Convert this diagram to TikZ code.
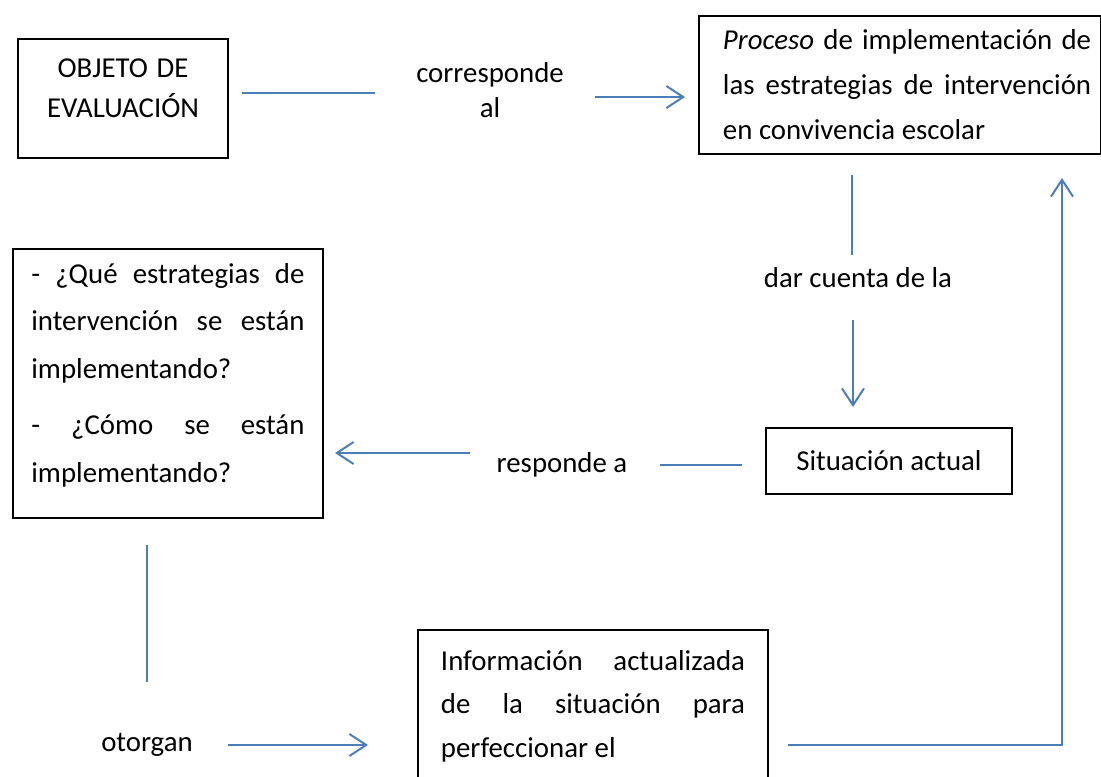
\documentclass[tikz,border=0pt]{standalone}
\usepackage{fontspec}
\setmainfont{Carlito}
\usepackage{xcolor}
\usetikzlibrary{arrows.meta}

\definecolor{wordblue}{HTML}{4A7EBB}
\newcommand{\jline}[2]{\noindent\hbox to #1{\spaceskip=0pt\xspaceskip=0pt #2}}
\newcommand{\toprule}{\rule{0pt}{16pt}}

\begin{document}
\begin{tikzpicture}[x=0.025cm, y=-0.025cm,
    every node/.style={font=\fontsize{20.5}{31}\selectfont},
    box/.style={draw, line width=1.4pt, inner sep=0pt,
                execute at begin node={\spaceskip=0pt\xspaceskip=0pt}},
    link/.style={wordblue, line width=1.4pt},
    linkarrow/.style={link, -{Straight Barb[length=0.42cm, width=0.55cm]}}]
    \useasboundingbox (0,0) rectangle (1101,777);

    % Boxes
    \node[box, anchor=north, text width=5.25cm, inner ysep=0.39cm, text depth=1.64cm, align=center,
          font=\fontsize{20.5}{29}\selectfont] (obj) at (123,38)
        {\toprule OBJETO DE\\EVALUACIÓN};
    \node[box, anchor=north west, text width=8.85cm, inner xsep=0.6cm, minimum height=3.45cm, align=left,
          font=\fontsize{20.5}{32}\selectfont] (proc) at (698,15)
        {\jline{9.2cm}{\textit{Proceso} de implementación de}\\
         \jline{9.2cm}{las estrategias de intervención}\\
         en convivencia escolar};
    \node[box, minimum width=6.15cm, minimum height=1.65cm] (sit) at (889,461) {Situación actual};
    \node[box, anchor=north west, text width=6.825cm, inner xsep=0.46cm, inner ysep=0.29cm, text depth=5.59cm, align=left,
          font=\fontsize{20.5}{34}\selectfont] (preg) at (12,248)
        {\toprule\jline{6.825cm}{- ¿Qué estrategias de}\\
         \jline{6.825cm}{intervención se están}\\
         implementando?\\[5.7pt]
         \jline{6.825cm}{- ¿Cómo se están}\\
         implementando?};
    \node[box, anchor=north west, text width=7.6cm, inner xsep=0.575cm, inner ysep=0.5cm, text depth=3.2cm, align=left] (info) at (417,629)
        {\jline{7.6cm}{Información actualizada}\\
         \jline{7.6cm}{de la situación para}\\
         perfeccionar el};

    % Labels
    \node[align=center, font=\fontsize{20.5}{25}\selectfont] (corr) at (490,90) {corresponde\\al};
    \node (dar) at (858,278) {dar cuenta de la};
    \node (resp) at (562,465) {responde a};
    \node (otor) at (147,745) {otorgan};

    % Connector ends
    \coordinate (a1) at (242,93);   \coordinate (b1) at (375,93);
    \coordinate (a2) at (595,97);   \coordinate (b2) at (685,97);
    \coordinate (a3) at (852,175);  \coordinate (b3) at (852,255);
    \coordinate (a4) at (853,320);  \coordinate (b4) at (853,407);
    \coordinate (a5) at (742,465);  \coordinate (b5) at (660,465);
    \coordinate (a6) at (470,453);  \coordinate (b6) at (335,453);
    \coordinate (a7) at (147,545);  \coordinate (b7) at (147,682);
    \coordinate (a8) at (228,745);  \coordinate (b8) at (368,745);
    \coordinate (a9) at (788,745);  \coordinate (b9) at (1062,178);

    % Connectors
    \draw[link] (a1) -- (b1);
    \draw[linkarrow] (a2) -- (b2);
    \draw[link] (a3) -- (b3);
    \draw[linkarrow] (a4) -- (b4);
    \draw[link] (a5) -- (b5);
    \draw[linkarrow] (a6) -- (b6);
    \draw[link] (a7) -- (b7);
    \draw[linkarrow] (a8) -- (b8);
    \draw[linkarrow] (a9) -| (b9);
\end{tikzpicture}
\end{document}
